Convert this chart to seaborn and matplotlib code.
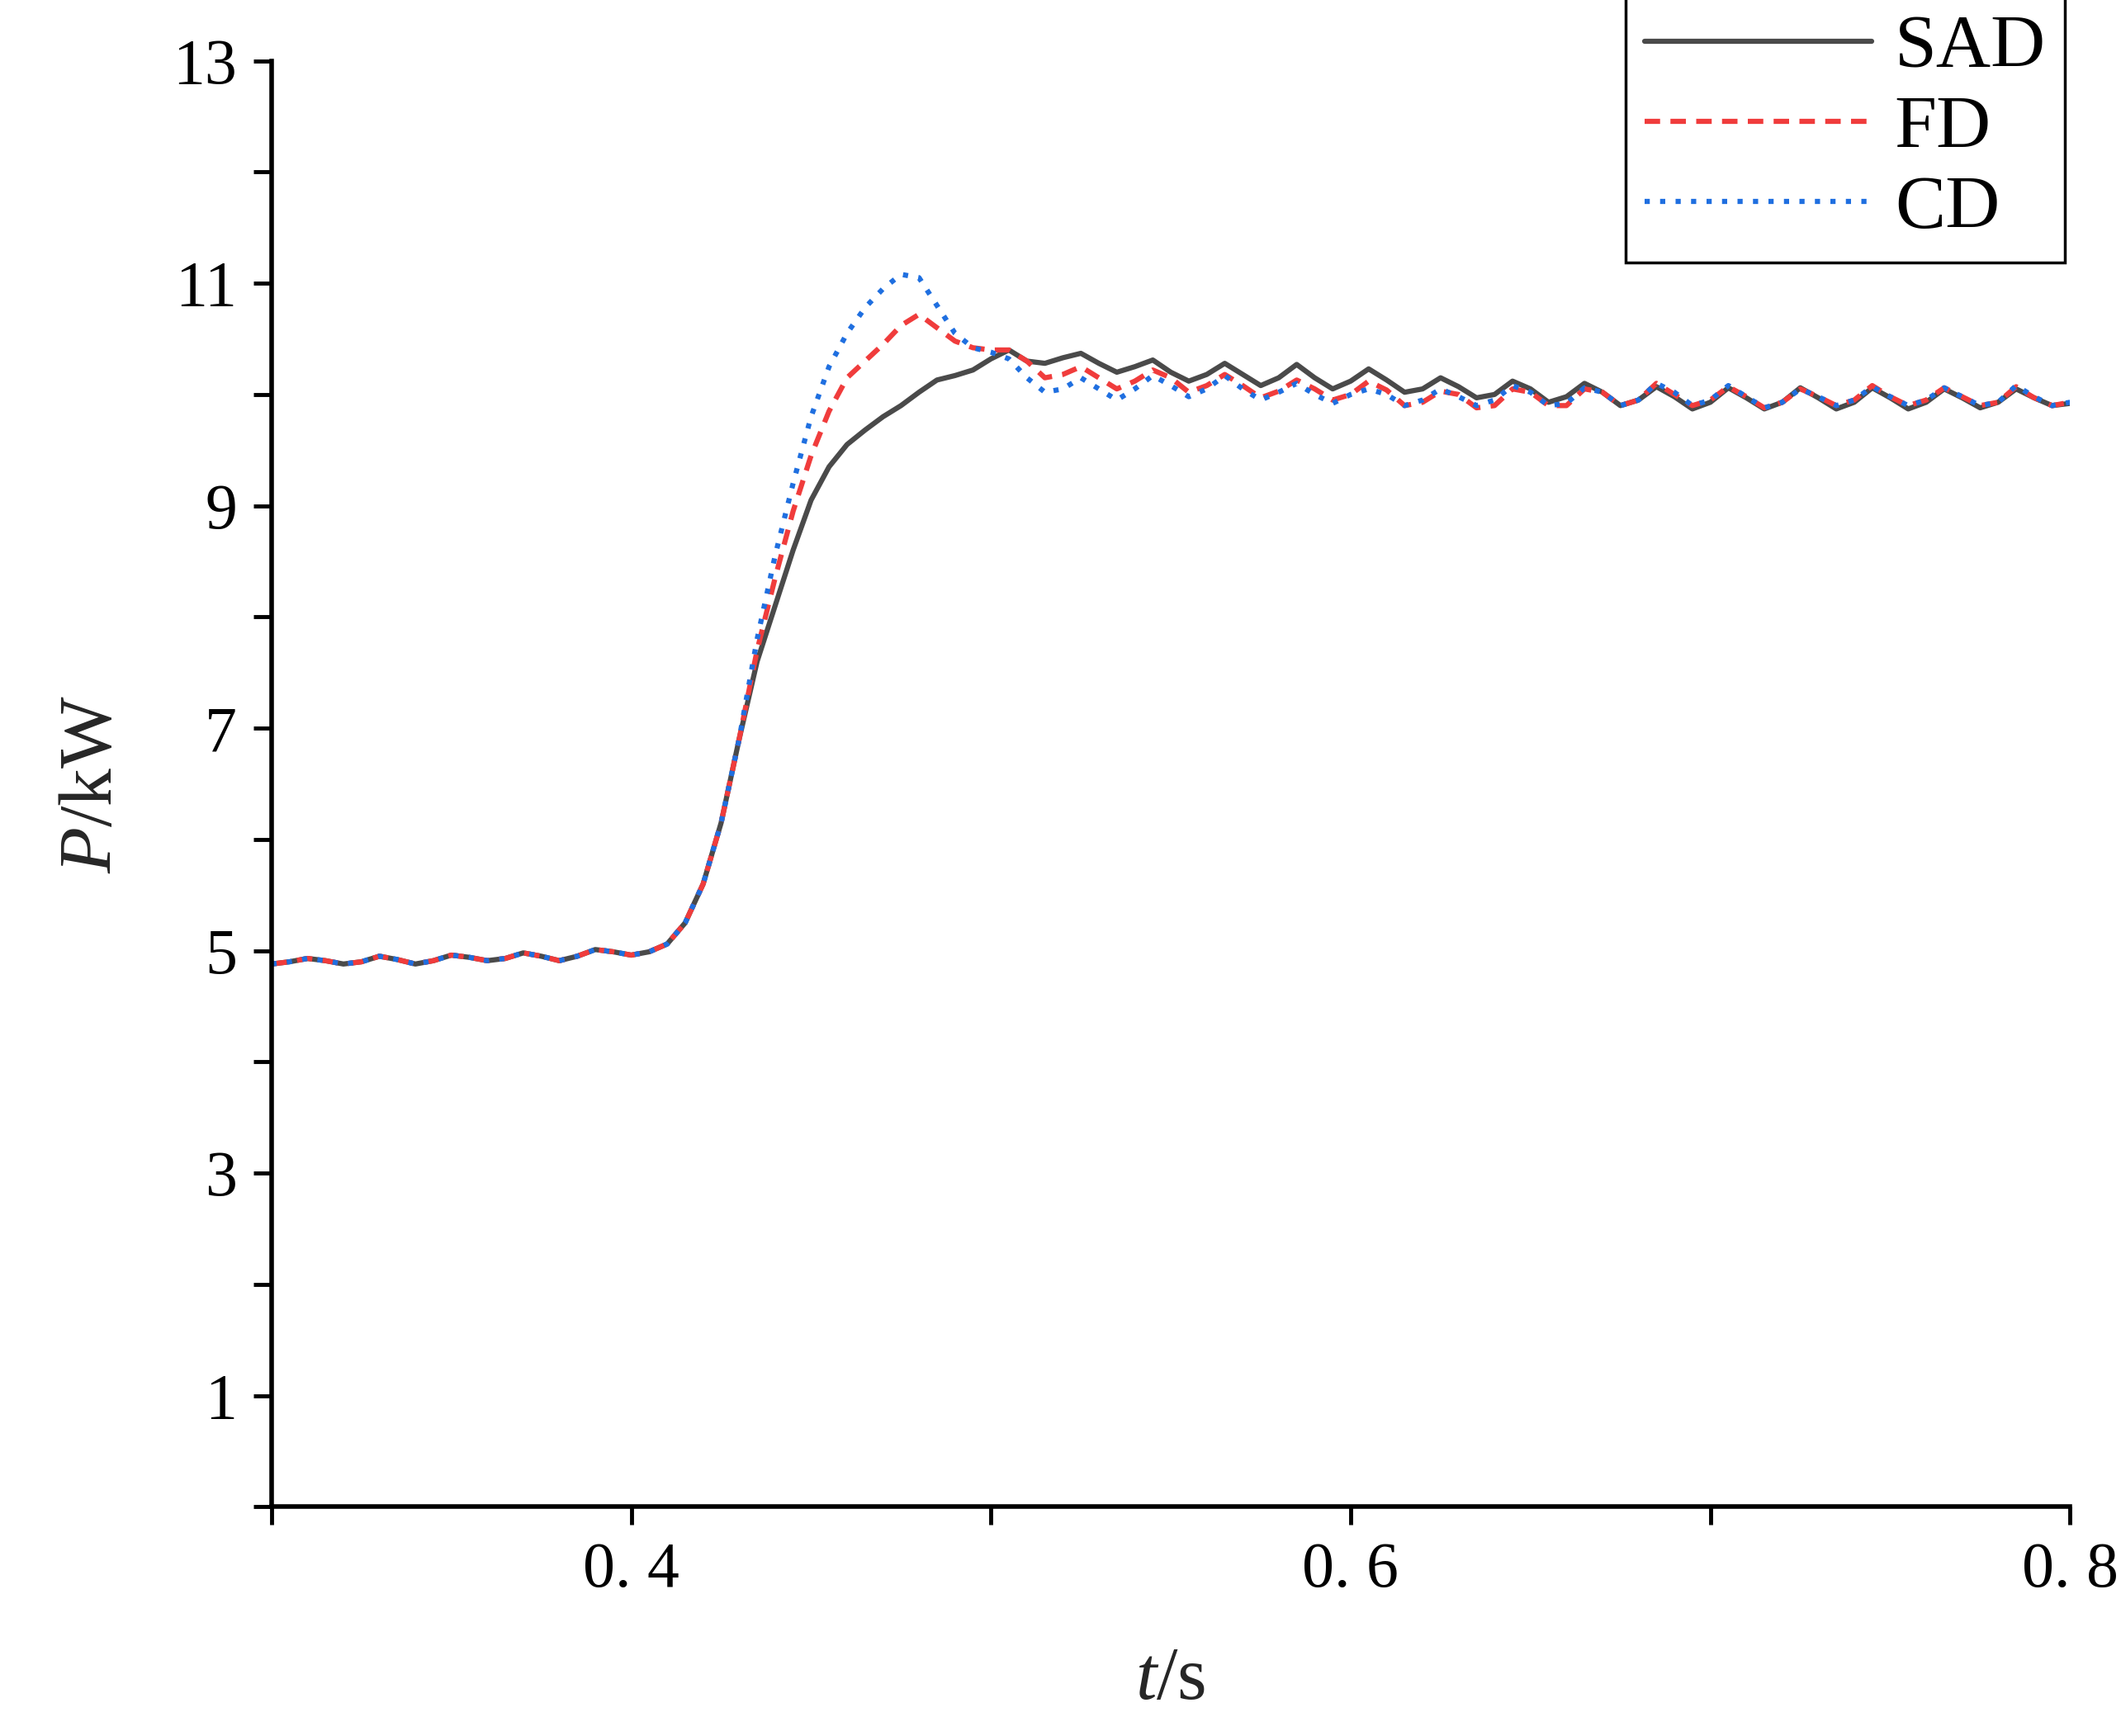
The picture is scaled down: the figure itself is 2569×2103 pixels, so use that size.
import numpy as np
import seaborn as sns
import matplotlib.pyplot as plt
import pandas as pd

common = [4.88, 4.90, 4.93, 4.91, 4.88, 4.90, 4.95, 4.92, 4.88, 4.91,
          4.96, 4.94, 4.91, 4.93, 4.98, 4.95, 4.91, 4.95, 5.01, 4.99,
          4.96, 4.99, 5.06, 5.25, 5.60, 6.15, 6.90]
sad_tail = [7.60, 8.10, 8.60, 9.05, 9.35, 9.55, 9.68, 9.80, 9.90, 10.02,
            10.13, 10.17, 10.22, 10.32, 10.40, 10.30, 10.28, 10.33, 10.37, 10.28,
            10.20, 10.25, 10.31, 10.20, 10.12, 10.18, 10.28, 10.18, 10.08, 10.15,
            10.27, 10.15, 10.05, 10.12, 10.23, 10.13, 10.02, 10.05, 10.15, 10.07,
            9.97, 10.00, 10.12, 10.05, 9.93, 9.98, 10.10, 10.02, 9.90, 9.95,
            10.07, 9.98, 9.87, 9.93, 10.06, 9.97, 9.87, 9.93, 10.06, 9.97,
            9.87, 9.93, 10.06, 9.97, 9.87, 9.93, 10.05, 9.97, 9.88, 9.93,
            10.05, 9.97, 9.90, 9.92]
fd_tail = [7.70, 8.35, 8.95, 9.45, 9.85, 10.15, 10.30, 10.45, 10.62, 10.72,
           10.60, 10.48, 10.42, 10.40, 10.40, 10.30, 10.15, 10.18, 10.25, 10.15,
           10.05, 10.12, 10.22, 10.15, 10.02, 10.08, 10.18, 10.08, 9.97, 10.03,
           10.13, 10.05, 9.95, 10.00, 10.12, 10.04, 9.90, 9.93, 10.03, 10.00,
           9.88, 9.90, 10.05, 10.02, 9.90, 9.90, 10.05, 10.02, 9.90, 9.95,
           10.10, 10.00, 9.90, 9.95, 10.07, 9.98, 9.88, 9.93, 10.05, 9.98,
           9.90, 9.95, 10.08, 9.98, 9.90, 9.95, 10.06, 9.98, 9.90, 9.93,
           10.07, 9.97, 9.90, 9.93]
cd_tail = [7.80, 8.55, 9.20, 9.80, 10.25, 10.55, 10.78, 10.95, 11.08, 11.05,
           10.80, 10.55, 10.42, 10.38, 10.32, 10.15, 10.02, 10.05, 10.15, 10.05,
           9.95, 10.05, 10.17, 10.08, 9.98, 10.05, 10.17, 10.05, 9.95, 10.02,
           10.10, 10.00, 9.92, 10.00, 10.05, 10.00, 9.90, 9.95, 10.05, 9.98,
           9.90, 9.95, 10.08, 10.02, 9.90, 9.92, 10.06, 10.02, 9.90, 9.95,
           10.10, 10.02, 9.90, 9.95, 10.08, 9.98, 9.88, 9.93, 10.05, 9.98,
           9.90, 9.95, 10.07, 9.98, 9.90, 9.95, 10.06, 9.98, 9.90, 9.93,
           10.08, 9.98, 9.90, 9.93]

series = {"SAD": common + sad_tail, "FD": common + fd_tail, "CD": common + cd_tail}
frames = []
for name, vals in series.items():
    t = 0.3 + 0.005 * np.arange(len(vals))
    frames.append(pd.DataFrame({"t": t, "P": vals, "method": name}))
df = pd.concat(frames)

sns.set_style("ticks", {"axes.edgecolor": "black", "xtick.color": "black",
                        "ytick.color": "black", "text.color": "black"})
plt.rcParams["font.family"] = "serif"
plt.rcParams["font.serif"] = ["Liberation Serif", "Times New Roman", "DejaVu Serif"]
plt.rcParams["mathtext.fontset"] = "custom"
plt.rcParams["mathtext.it"] = "Liberation Serif:italic"
plt.rcParams["mathtext.rm"] = "Liberation Serif"

fig = plt.figure(figsize=(25.69, 21.03), dpi=100)
ax = fig.add_axes([0.128, 0.132, 0.848, 0.833])
palette = {"SAD": "#4a4a4a", "FD": "#f03c3c", "CD": "#1f6fe0"}
sns.lineplot(data=df, x="t", y="P", hue="method", style="method",
             palette=palette, dashes={"SAD": "", "FD": (3, 2), "CD": (1, 2)},
             linewidth=4.5, ax=ax, legend=False)
for ln, lab in zip(ax.get_lines(), ["SAD", "FD", "CD"]):
    ln.set_label(lab)

ax.set_xlim(0.3, 0.8)
ax.set_ylim(0, 13)
ax.set_xticks([0.4, 0.6, 0.8])
ax.set_xticklabels(["0. 4", "0. 6", "0. 8"])
ax.set_xticks([0.3, 0.5, 0.7], minor=True)
ax.set_yticks([1, 3, 5, 7, 9, 11, 13])
ax.set_yticks([0, 2, 4, 6, 8, 10, 12], minor=True)
ax.tick_params(which="both", direction="out", width=3.5, labelsize=56,
               colors="black")
ax.tick_params(which="major", length=16, pad=14)
ax.tick_params(which="minor", length=16)
for s in ["left", "bottom"]:
    ax.spines[s].set_linewidth(4)
sns.despine(ax=ax)
ax.set_xlabel(r"$t$/s", fontsize=66, labelpad=40)
ax.set_ylabel(r"$P$/kW", fontsize=66, labelpad=40)

leg = ax.legend(loc="upper right", bbox_to_anchor=(0.997, 1.045), fontsize=66,
                frameon=True, fancybox=False, edgecolor="black",
                handlelength=3.0, borderpad=0.25, labelspacing=0.15,
                handletextpad=0.3, borderaxespad=0)
leg.get_frame().set_linewidth(2.5)
leg.get_frame().set_alpha(1)

fig.savefig("out.png", dpi=100)
